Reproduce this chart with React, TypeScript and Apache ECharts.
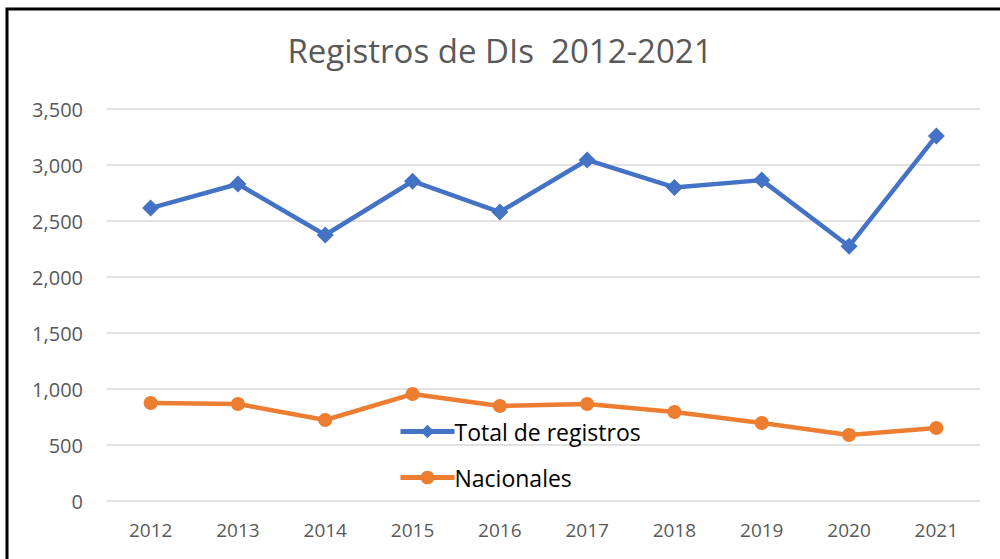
import React, { useEffect, useRef } from "react";
import * as echarts from "echarts";

const years = ["2012", "2013", "2014", "2015", "2016", "2017", "2018", "2019", "2020", "2021"];
const totalRegistros = [2615, 2830, 2375, 2855, 2580, 3045, 2800, 2865, 2275, 3260];
const nacionales = [875, 866, 723, 955, 848, 866, 795, 696, 589, 652];

const FONT = "'Open Sans', 'Noto Sans', sans-serif";

export default function App() {
  const ref = useRef<HTMLDivElement>(null);
  useEffect(() => {
    if (!ref.current) return;
    const chart = echarts.init(ref.current, null, { renderer: "svg" });
    chart.setOption({
      animation: false,
      backgroundColor: "#ffffff",
      title: {
        text: "Registros de DIs  2012-2021",
        left: "center",
        top: 29,
        textStyle: { color: "#595959", fontSize: 33, fontWeight: "normal", fontFamily: FONT },
      },
      graphic: [
        {
          type: "rect",
          shape: { x: 7, y: 9, width: 1010, height: 570 },
          style: { fill: "none", stroke: "#000000", lineWidth: 3 },
          silent: true,
        },
      ],
      legend: {
        orient: "vertical",
        left: 393,
        top: 415,
        itemGap: 23,
        itemWidth: 54,
        itemHeight: 17,
        lineStyle: { width: 5 },
        textStyle: { color: "#000000", fontSize: 23, fontFamily: FONT, padding: [0, 0, 0, -5] },
        data: ["Total de registros", "Nacionales"],
      },
      grid: { left: 107, right: 20, top: 109, bottom: 58 },
      xAxis: {
        type: "category",
        data: years,
        axisLine: { show: false },
        axisTick: { show: false },
        axisLabel: { color: "#595959", fontSize: 19, fontFamily: FONT, margin: 19 },
      },
      yAxis: {
        type: "value",
        min: 0,
        max: 3500,
        interval: 500,
        axisLine: { show: false },
        axisTick: { show: false },
        splitLine: { lineStyle: { color: "#d9d9d9", width: 1.5 } },
        axisLabel: {
          color: "#595959",
          fontSize: 20,
          fontFamily: FONT,
          margin: 24,
          formatter: (v: number) => v.toLocaleString("en-US"),
        },
      },
      series: [
        {
          name: "Total de registros",
          type: "line",
          data: totalRegistros,
          symbol: "diamond",
          symbolSize: 17,
          lineStyle: { color: "#4472C4", width: 4.5 },
          itemStyle: { color: "#4472C4" },
        },
        {
          name: "Nacionales",
          type: "line",
          data: nacionales,
          symbol: "circle",
          symbolSize: 14,
          lineStyle: { color: "#ED7D31", width: 4.5 },
          itemStyle: { color: "#ED7D31" },
        },
      ],
    });
    return () => chart.dispose();
  }, []);
  return (
    <div
      ref={ref}
      style={{ position: "fixed", left: 0, top: 0, width: 1000, height: 559 }}
    />
  );
}
